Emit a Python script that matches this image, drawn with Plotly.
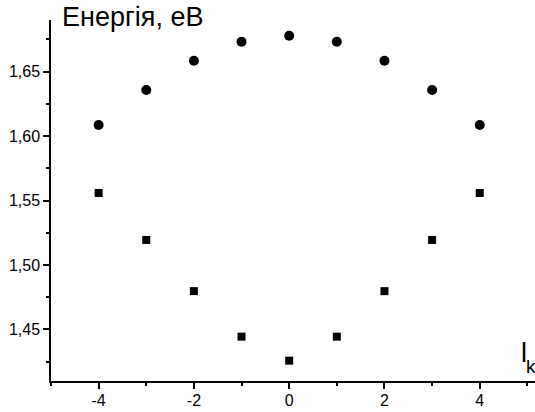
import plotly.graph_objects as go

x_vals = [-4, -3, -2, -1, 0, 1, 2, 3, 4]
upper_energy = [1.6085, 1.6357, 1.6584, 1.6731, 1.6778, 1.6731, 1.6584, 1.6357, 1.6085]
lower_energy = [1.5558, 1.5194, 1.4797, 1.4444, 1.4258, 1.4444, 1.4797, 1.5194, 1.5558]
x_tick_vals = [-4, -2, 0, 2, 4]
x_tick_text = ["-4", "-2", "0", "2", "4"]
y_tick_vals = [1.45, 1.50, 1.55, 1.60, 1.65]
y_tick_text = ["1,45", "1,50", "1,55", "1,60", "1,65"]

# body margin is removed below, so figure coords = page coords
W, H = 535, 412
L, R, T, B = 51, 0, 20, 31
PW, PH = W - L - R, H - T - B


def px(xp):  # page x -> paper
    return (xp - L) / PW


def py(yp):  # page y -> paper
    return 1 - (yp - T) / PH


fig = go.Figure()
fig.add_trace(go.Scatter(x=x_vals, y=upper_energy, mode="markers",
                         marker=dict(symbol="circle", size=10, color="black"),
                         showlegend=False))
fig.add_trace(go.Scatter(x=x_vals, y=lower_energy, mode="markers",
                         marker=dict(symbol="square", size=8, color="black"),
                         showlegend=False))

font_family = "Liberation Sans, Arial, sans-serif"
fig.update_layout(
    width=W, height=H,
    margin=dict(l=L, r=R, t=T, b=B, autoexpand=False),
    paper_bgcolor="white", plot_bgcolor="white",
    font=dict(family=font_family, color="black", size=16),
    xaxis=dict(range=[-5, 5.16], showgrid=False, zeroline=False,
               showline=True, linecolor="black", linewidth=1.5,
               ticks="outside", ticklen=6, tickwidth=1.5, tickcolor="black",
               tickvals=x_tick_vals, ticktext=x_tick_text,
               tickfont=dict(size=16), ticklabelstandoff=-2,
               minor=dict(ticks="outside", ticklen=3, tickwidth=1.5,
                          tickcolor="black", dtick=1, tick0=0, showgrid=False)),
    yaxis=dict(range=[1.41, 1.69], showgrid=False, zeroline=False,
               showline=True, linecolor="black", linewidth=1.5,
               ticks="outside", ticklen=6, tickwidth=1.5, tickcolor="black",
               tickvals=y_tick_vals, ticktext=y_tick_text,
               tickfont=dict(size=16),
               minor=dict(ticks="outside", ticklen=3, tickwidth=1.5,
                          tickcolor="black", dtick=0.025, tick0=1.45, showgrid=False)),
    annotations=[
        dict(text="Енергія, еВ", xref="paper", yref="paper",
             x=px(60), y=py(17), xanchor="left", yanchor="middle",
             showarrow=False, font=dict(size=27, family=font_family, color="black")),
        dict(text="l", xref="paper", yref="paper",
             x=px(523.5), y=py(353), xanchor="center", yanchor="middle",
             showarrow=False, font=dict(size=27, family=font_family, color="black")),
        dict(text="k", xref="paper", yref="paper",
             x=px(530.5), y=py(366), xanchor="center", yanchor="middle",
             showarrow=False, font=dict(size=19, family=font_family, color="black")),
    ],
)

fig.write_html(
    "out.html",
    config={"displayModeBar": False},
    post_script="document.body.style.margin='0px';document.body.style.overflow='hidden';",
)
